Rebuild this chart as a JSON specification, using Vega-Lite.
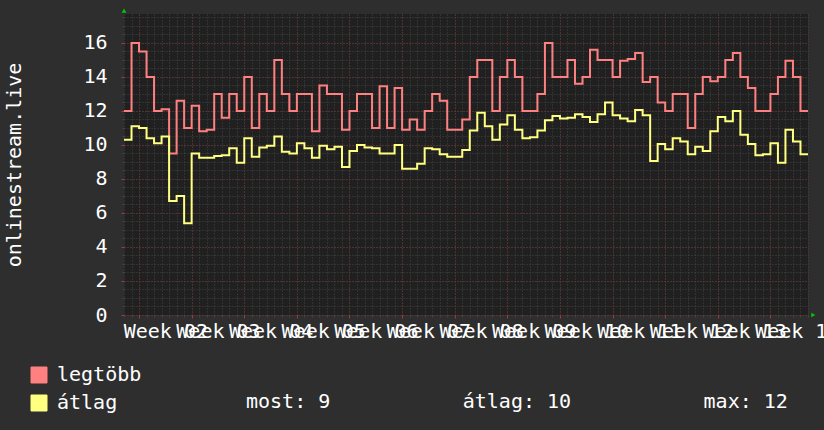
{
  "$schema": "https://vega.github.io/schema/vega-lite/v6.json",
  "width": 684,
  "height": 301,
  "autosize": {"type": "none"},
  "padding": {"left": 124, "top": 14, "right": 16, "bottom": 115},
  "background": "#2e2e2e",
  "config": {
    "view": {"fill": "#202020", "stroke": null},
    "axis": {"domain": false}
  },
  "title": {
    "text": "most: 9\u00a0\u00a0\u00a0\u00a0\u00a0\u00a0\u00a0\u00a0\u00a0\u00a0\u00a0átlag: 10\u00a0\u00a0\u00a0\u00a0\u00a0\u00a0\u00a0\u00a0\u00a0\u00a0\u00a0max: 12",
    "orient": "bottom",
    "anchor": "start",
    "frame": "group",
    "dx": 122,
    "offset": -21,
    "font": "DejaVu Sans Mono",
    "fontSize": 20,
    "fontWeight": "normal",
    "color": "#ffffff"
  },
  "data": {
    "values": [
      {"day": 0, "legtöbb": 12, "átlag": 10.3},
      {"day": 1, "legtöbb": 16, "átlag": 11.1},
      {"day": 2, "legtöbb": 15.5, "átlag": 11.0},
      {"day": 3, "legtöbb": 14, "átlag": 10.4},
      {"day": 4, "legtöbb": 12, "átlag": 10.1},
      {"day": 5, "legtöbb": 12.1, "átlag": 10.5},
      {"day": 6, "legtöbb": 9.5, "átlag": 6.7},
      {"day": 7, "legtöbb": 12.6, "átlag": 7.0},
      {"day": 8, "legtöbb": 11, "átlag": 5.4},
      {"day": 9, "legtöbb": 12.3, "átlag": 9.5},
      {"day": 10, "legtöbb": 10.8, "átlag": 9.25},
      {"day": 11, "legtöbb": 10.9, "átlag": 9.25},
      {"day": 12, "legtöbb": 13, "átlag": 9.35},
      {"day": 13, "legtöbb": 11.6, "átlag": 9.4},
      {"day": 14, "legtöbb": 13, "átlag": 9.8},
      {"day": 15, "legtöbb": 12, "átlag": 8.95},
      {"day": 16, "legtöbb": 14, "átlag": 10.4},
      {"day": 17, "legtöbb": 11, "átlag": 9.3},
      {"day": 18, "legtöbb": 13, "átlag": 9.85},
      {"day": 19, "legtöbb": 12, "átlag": 9.95},
      {"day": 20, "legtöbb": 15, "átlag": 10.5},
      {"day": 21, "legtöbb": 13, "átlag": 9.6},
      {"day": 22, "legtöbb": 12, "átlag": 9.5},
      {"day": 23, "legtöbb": 13, "átlag": 10.1},
      {"day": 24, "legtöbb": 13, "átlag": 9.8},
      {"day": 25, "legtöbb": 10.8, "átlag": 9.25},
      {"day": 26, "legtöbb": 13.5, "átlag": 9.95},
      {"day": 27, "legtöbb": 13, "átlag": 9.75},
      {"day": 28, "legtöbb": 13, "átlag": 9.9},
      {"day": 29, "legtöbb": 10.9, "átlag": 8.7},
      {"day": 30, "legtöbb": 12, "átlag": 9.65},
      {"day": 31, "legtöbb": 13, "átlag": 10.0},
      {"day": 32, "legtöbb": 13, "átlag": 9.85},
      {"day": 33, "legtöbb": 11, "átlag": 9.8},
      {"day": 34, "legtöbb": 13.45, "átlag": 9.5},
      {"day": 35, "legtöbb": 11, "átlag": 9.5},
      {"day": 36, "legtöbb": 13.35, "átlag": 10.0},
      {"day": 37, "legtöbb": 10.9, "átlag": 8.6},
      {"day": 38, "legtöbb": 11.5, "átlag": 8.6},
      {"day": 39, "legtöbb": 10.9, "átlag": 8.9},
      {"day": 40, "legtöbb": 12, "átlag": 9.8},
      {"day": 41, "legtöbb": 13, "átlag": 9.75},
      {"day": 42, "legtöbb": 12.6, "átlag": 9.45},
      {"day": 43, "legtöbb": 10.9, "átlag": 9.3},
      {"day": 44, "legtöbb": 10.9, "átlag": 9.3},
      {"day": 45, "legtöbb": 11.5, "átlag": 9.7},
      {"day": 46, "legtöbb": 14, "átlag": 10.85},
      {"day": 47, "legtöbb": 15, "átlag": 11.9},
      {"day": 48, "legtöbb": 15, "átlag": 11.1},
      {"day": 49, "legtöbb": 12, "átlag": 10.3},
      {"day": 50, "legtöbb": 14, "átlag": 11.2},
      {"day": 51, "legtöbb": 15, "átlag": 11.75},
      {"day": 52, "legtöbb": 14, "átlag": 10.9},
      {"day": 53, "legtöbb": 12, "átlag": 10.4},
      {"day": 54, "legtöbb": 12, "átlag": 10.45},
      {"day": 55, "legtöbb": 13, "átlag": 10.85},
      {"day": 56, "legtöbb": 16, "átlag": 11.45},
      {"day": 57, "legtöbb": 14, "átlag": 11.7},
      {"day": 58, "legtöbb": 14, "átlag": 11.55},
      {"day": 59, "legtöbb": 15, "átlag": 11.6},
      {"day": 60, "legtöbb": 13.6, "átlag": 11.8},
      {"day": 61, "legtöbb": 14, "átlag": 11.65},
      {"day": 62, "legtöbb": 15.6, "átlag": 11.35},
      {"day": 63, "legtöbb": 15, "átlag": 11.8},
      {"day": 64, "legtöbb": 15, "átlag": 12.5},
      {"day": 65, "legtöbb": 14, "átlag": 11.75},
      {"day": 66, "legtöbb": 14.95, "átlag": 11.55},
      {"day": 67, "legtöbb": 15.05, "átlag": 11.4},
      {"day": 68, "legtöbb": 15.4, "átlag": 12.05},
      {"day": 69, "legtöbb": 13.7, "átlag": 11.75},
      {"day": 70, "legtöbb": 14, "átlag": 9.05},
      {"day": 71, "legtöbb": 12.5, "átlag": 10.05},
      {"day": 72, "legtöbb": 12, "átlag": 9.75},
      {"day": 73, "legtöbb": 13, "átlag": 10.4},
      {"day": 74, "legtöbb": 13, "átlag": 10.2},
      {"day": 75, "legtöbb": 11, "átlag": 9.45},
      {"day": 76, "legtöbb": 13, "átlag": 9.9},
      {"day": 77, "legtöbb": 14, "átlag": 9.65},
      {"day": 78, "legtöbb": 13.75, "átlag": 10.8},
      {"day": 79, "legtöbb": 14, "átlag": 11.65},
      {"day": 80, "legtöbb": 15, "átlag": 11.4},
      {"day": 81, "legtöbb": 15.4, "átlag": 12.0},
      {"day": 82, "legtöbb": 14, "átlag": 10.6},
      {"day": 83, "legtöbb": 13.35, "átlag": 10.05},
      {"day": 84, "legtöbb": 12, "átlag": 9.4},
      {"day": 85, "legtöbb": 12, "átlag": 9.45},
      {"day": 86, "legtöbb": 13, "átlag": 10.1},
      {"day": 87, "legtöbb": 14, "átlag": 8.95},
      {"day": 88, "legtöbb": 14.95, "átlag": 10.9},
      {"day": 89, "legtöbb": 14, "átlag": 10.2},
      {"day": 90, "legtöbb": 12, "átlag": 9.45},
      {"day": 91, "legtöbb": 12, "átlag": 9.45}
    ]
  },
  "layer": [
    {
      "transform": [{"fold": ["legtöbb", "átlag"], "as": ["series", "value"]}],
      "mark": {"type": "point", "opacity": 0},
      "encoding": {
        "x": {
          "field": "day", "type": "quantitative",
          "scale": {"domain": [0, 91], "nice": false, "zero": false},
          "axis": {
            "orient": "bottom",
            "values": [0,1,2,3,4,5,6,7,8,9,10,11,12,13,14,15,16,17,18,19,20,21,22,23,24,25,26,27,28,29,30,31,32,33,34,35,36,37,38,39,40,41,42,43,44,45,46,47,48,49,50,51,52,53,54,55,56,57,58,59,60,61,62,63,64,65,66,67,68,69,70,71,72,73,74,75,76,77,78,79,80,81,82,83,84,85,86,87,88,89,90,91],
            "grid": true, "gridColor": "#444444", "gridDash": [1, 2], "gridWidth": 1,
            "labels": false, "ticks": true, "tickColor": "#444444", "tickSize": 2, "domain": false, "title": null
          }
        },
        "y": {
          "field": "value", "type": "quantitative",
          "scale": {"domain": [0, 17.7], "nice": false, "zero": true},
          "axis": {
            "orient": "left",
            "values": [0,0.5,1,1.5,2,2.5,3,3.5,4,4.5,5,5.5,6,6.5,7,7.5,8,8.5,9,9.5,10,10.5,11,11.5,12,12.5,13,13.5,14,14.5,15,15.5,16,16.5,17,17.5],
            "grid": true, "gridColor": "#444444", "gridDash": [1, 2], "gridWidth": 1,
            "labels": false, "ticks": true, "tickColor": "#444444", "tickSize": 2, "domain": false, "title": null
          }
        }
      }
    },
    {
      "transform": [{"fold": ["legtöbb", "átlag"], "as": ["series", "value"]}],
      "mark": {"type": "point", "opacity": 0},
      "encoding": {
        "x": {
          "field": "day", "type": "quantitative",
          "axis": {
            "orient": "bottom",
            "values": [2, 9, 16, 23, 30, 37, 44, 51, 58, 65, 72, 79, 86],
            "grid": true, "gridColor": "#703232", "gridDash": [1, 2], "gridWidth": 1,
            "labels": false, "ticks": true, "tickColor": "#a03c3c", "tickSize": 3, "domain": false, "title": null
          }
        },
        "y": {
          "field": "value", "type": "quantitative",
          "axis": {
            "orient": "left",
            "values": [0, 2, 4, 6, 8, 10, 12, 14, 16],
            "grid": true, "gridColor": "#703232", "gridDash": [1, 2], "gridWidth": 1,
            "ticks": true, "tickColor": "#a03c3c", "tickSize": 3, "domain": false,
            "labels": true, "labelFont": "DejaVu Sans Mono", "labelFontSize": 20, "labelColor": "#ffffff",
            "labelPadding": 14, "labelBaseline": "middle",
            "title": "onlinestream.live", "titleFont": "DejaVu Sans Mono", "titleFontSize": 20,
            "titleFontWeight": "normal", "titleColor": "#ffffff", "titleAngle": 270,
            "titleAlign": "center", "titleBaseline": "alphabetic", "titleX": -104, "titleY": 150.5
          }
        }
      }
    },
    {
      "transform": [{"fold": ["legtöbb", "átlag"], "as": ["series", "value"]}],
      "mark": {"type": "line", "interpolate": "step-after", "strokeWidth": 2},
      "encoding": {
        "x": {
          "field": "day", "type": "quantitative",
          "axis": {
            "orient": "bottom",
            "values": [5.5, 12.5, 19.5, 26.5, 33.5, 40.5, 47.5, 54.5, 61.5, 68.5, 75.5, 82.5, 89.5],
            "labelExpr": "'Week ' + format((datum.value - 5.5) / 7 + 2, '02d')",
            "grid": false, "ticks": false, "domain": false,
            "labelFont": "DejaVu Sans Mono", "labelFontSize": 20, "labelColor": "#ffffff",
            "labelOverlap": false, "labelBound": false, "labelFlush": false, "labelLimit": 0,
            "labelAlign": "center", "labelBaseline": "alphabetic", "labelPadding": 22, "title": null
          }
        },
        "y": {"field": "value", "type": "quantitative", "axis": null},
        "color": {
          "field": "series", "type": "nominal",
          "scale": {"domain": ["legtöbb", "átlag"], "range": ["#ff8080", "#ffff80"]},
          "legend": {
            "orient": "none", "legendX": -95, "legendY": 351, "direction": "vertical",
            "title": null, "symbolType": "square", "symbolSize": 256, "symbolStrokeWidth": 1,
            "labelFont": "DejaVu Sans Mono", "labelFontSize": 20, "labelColor": "#ffffff",
            "labelOffset": 8, "rowPadding": 8, "labelBaseline": "middle",
            "encode": {
              "symbols": {
                "update": {
                  "fill": {"scale": "color", "field": "value"},
                  "stroke": {"value": "#000000"},
                  "strokeWidth": {"value": 1},
                  "opacity": {"value": 1}
                }
              }
            }
          }
        }
      }
    },
    {
      "data": {"values": [{"marker": "y"}]},
      "mark": {"type": "point", "shape": "triangle-up", "filled": true, "color": "#00cc00", "size": 22, "opacity": 1},
      "encoding": {
        "x": {"datum": 0, "type": "quantitative", "axis": null},
        "y": {"datum": 17.9, "type": "quantitative", "axis": null}
      }
    },
    {
      "data": {"values": [{"marker": "x"}]},
      "mark": {"type": "point", "shape": "triangle-right", "filled": true, "color": "#00cc00", "size": 22, "opacity": 1},
      "encoding": {
        "x": {"datum": 91.7, "type": "quantitative", "axis": null},
        "y": {"datum": 0, "type": "quantitative", "axis": null}
      }
    }
  ],
  "resolve": {"axis": {"x": "independent", "y": "independent"}}
}
